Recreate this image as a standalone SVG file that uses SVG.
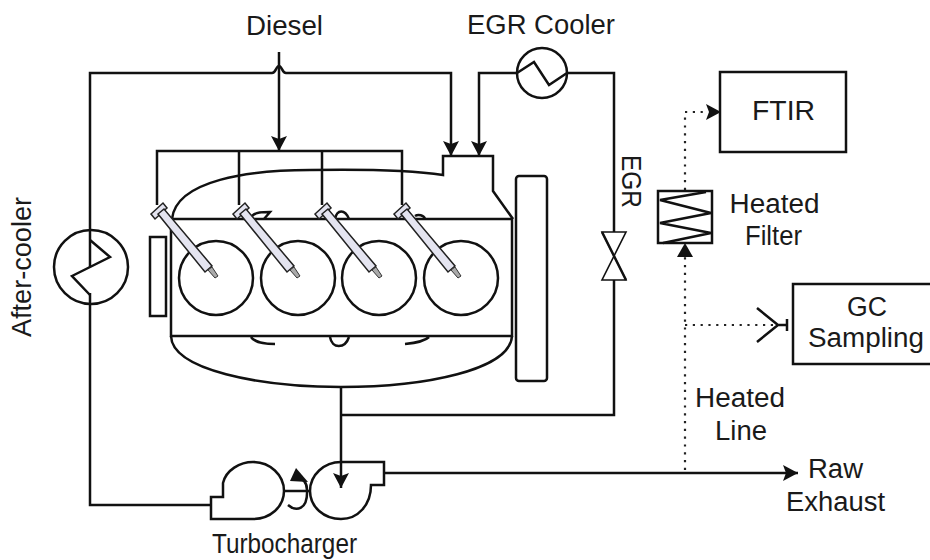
<svg xmlns="http://www.w3.org/2000/svg" width="930" height="560" viewBox="0 0 930 560">
<style>
.l{fill:none;stroke:#111;stroke-width:2.5;stroke-linejoin:miter}
.t{fill:none;stroke:#111;stroke-width:1.6}
.d{fill:none;stroke:#222;stroke-width:2.2;stroke-dasharray:2.2 5.6}
text{font-family:"Liberation Sans",Arial,sans-serif;font-size:27px;fill:#1a1a1a;text-anchor:middle}
.inj{fill:#e4e4f0;stroke:#222;stroke-width:1.5}
.tip{fill:#aaa;stroke:#333;stroke-width:1}
</style>
<defs>
<marker id="a" markerUnits="userSpaceOnUse" markerWidth="18" markerHeight="18" refX="15" refY="8" orient="auto"><path d="M0 0L15 8L0 16L3 8Z" fill="#111"/></marker>
<g id="injector"><path class="inj" d="M-7 -2L5 -13L9 -8L-3 3Z"/><path class="inj" d="M0 -2L6 -7L54 50L47 56Z"/><path class="tip" d="M50 54L54 51L60 60L57 62Z"/></g>
</defs>
<rect width="930" height="560" fill="#fff"/>
<g id="connectors">
<path class="l" d="M90 267V73H272C276 73 276 66 279 66C282 66 282 73 286 73H451V156" marker-end="url(#a)"/>
<path class="l" d="M279 52V151" marker-end="url(#a)"/>
<path class="l" d="M157 205V151H402V205M239 151V205M322 151V205"/>
<path class="l" d="M90 293V505H211"/>
<path class="l" d="M517 73H479V156" marker-end="url(#a)"/>
<path class="l" d="M567 73H614V232M614 280V415H341"/>
<path class="l" d="M341 387V488" marker-end="url(#a)"/>
<path class="l" d="M384 473H798" marker-end="url(#a)"/>
<path class="d" d="M685 470V250"/>
<path class="d" d="M685 190V112H708"/>
<path d="M706 104L721 112L706 120L709 112Z" fill="#111"/>
<path d="M677 257L685 243L693 257Z" fill="#111"/>
<path class="d" d="M685 325H775"/>
<path class="l" d="M757 308L778 325L757 342M778 325H786M787 319V331"/>
</g>
<g id="engine">
<path class="l" d="M172 219C176 180 250 170 310 170C370 169 410 170 443 175V156H493V191L513 219"/>
<rect class="l" x="171" y="219" width="341" height="117"/>
<path class="l" d="M171 336C172 370 260 387 341 387C425 387 510 370 512 336"/>
<rect class="l" x="150" y="237" width="16" height="79"/>
<rect class="l" x="516" y="176" width="31" height="205" rx="3"/>
<path class="l" d="M252 216C256 212 262 212 270 212L264 219M335 219C337 209 345 209 349 219M415 216C418 214 424 215 425 219"/>
<path class="l" d="M251 337C254 342 265 344 275 344M330 337C332 349 345 349 349 337M405 344C415 343 425 341 429 337"/>
</g>
<g id="cylinder-1"><circle class="l" cx="216" cy="278" r="37"/><use href="#injector" x="158" y="216"/></g>
<g id="cylinder-2"><circle class="l" cx="298" cy="278" r="37"/><use href="#injector" x="240" y="216"/></g>
<g id="cylinder-3"><circle class="l" cx="379" cy="278" r="37"/><use href="#injector" x="322" y="216"/></g>
<g id="cylinder-4"><circle class="l" cx="461" cy="278" r="37"/><use href="#injector" x="401" y="216"/></g>
<g id="after-cooler"><circle class="l" cx="91" cy="267" r="37"/><path class="l" d="M90 240L110 257L72 276L90 295"/>
<text transform="translate(31 267) rotate(-90)" textLength="140" lengthAdjust="spacingAndGlyphs">After-cooler</text></g>
<g id="egr-cooler"><circle class="l" cx="542" cy="73" r="25"/><path class="l" d="M517 73L534 62L549 85L567 73"/>
<text x="541" y="34" textLength="148" lengthAdjust="spacingAndGlyphs">EGR Cooler</text></g>
<g id="diesel"><text x="284.500" y="35" textLength="77" lengthAdjust="spacingAndGlyphs">Diesel</text></g>
<g id="egr-valve"><path class="t" d="M602 232H626L602 280H626Z"/><path class="l" d="M602 232L626 280"/>
<text transform="translate(622 181.500) rotate(90)" textLength="53" lengthAdjust="spacingAndGlyphs">EGR</text></g>
<g id="turbocharger">
<path class="l" d="M211 505V497H223V483C226 470 240 462 253 462C270 462 284 475 284 491C284 507 270 519 253 519H211Z"/>
<path class="l" d="M341 462H384V485H371C371 505 358 519 341 519C324 519 310 507 310 491C310 475 324 462 341 462Z"/>
<path class="l" d="M284 491H310"/>
<path class="l" d="M288 505C296 512 308 510 307 490C307 482 302 478 296 477"/>
<path d="M290 481L296 468L308 482Z" fill="#111"/>
<text x="284.500" y="553" textLength="145" lengthAdjust="spacingAndGlyphs">Turbocharger</text></g>
<g id="ftir"><rect class="l" x="720" y="72" width="126" height="80"/><text x="783.500" y="120" textLength="63" lengthAdjust="spacingAndGlyphs">FTIR</text></g>
<g id="heated-filter"><rect class="l" x="658" y="191" width="54" height="52"/><path class="l" d="M706 192L660 200L711 213L660 223L711 233L663 243"/>
<text x="774.500" y="213" textLength="90" lengthAdjust="spacingAndGlyphs">Heated</text><text x="773.500" y="245" textLength="57" lengthAdjust="spacingAndGlyphs">Filter</text></g>
<g id="gc-sampling"><rect class="l" x="793" y="284" width="140" height="80"/><text x="867" y="316" textLength="40" lengthAdjust="spacingAndGlyphs">GC</text><text x="866" y="347" textLength="116" lengthAdjust="spacingAndGlyphs">Sampling</text></g>
<text x="740" y="407" textLength="90" lengthAdjust="spacingAndGlyphs">Heated</text><text x="741" y="440" textLength="52" lengthAdjust="spacingAndGlyphs">Line</text>
<text x="835.500" y="478" textLength="55" lengthAdjust="spacingAndGlyphs">Raw</text><text x="835.500" y="511" textLength="99" lengthAdjust="spacingAndGlyphs">Exhaust</text>
</svg>
